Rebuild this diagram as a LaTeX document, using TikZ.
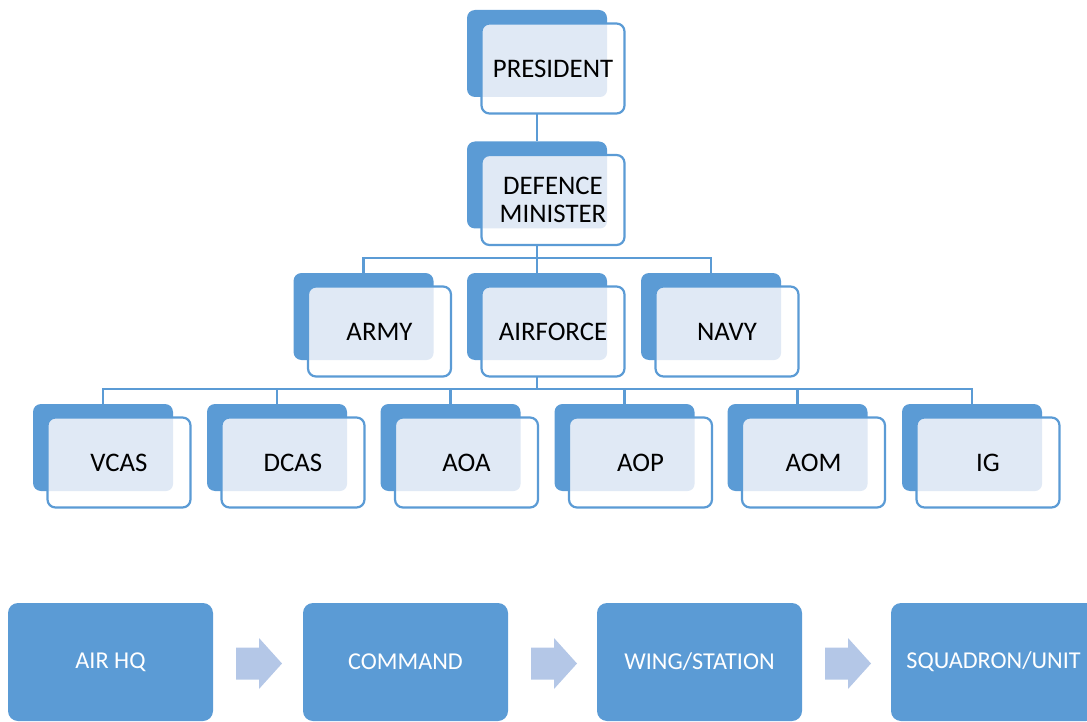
\documentclass[tikz,border=0pt]{standalone}
\usepackage{fontspec}
\setmainfont{Carlito}
\definecolor{ob}{RGB}{91,155,213}
\definecolor{ovl}{RGB}{224,233,245}
\definecolor{arw}{RGB}{180,199,231}
\tikzset{
  backbox/.style={fill=ob, rounded corners=8pt, minimum width=140pt, minimum height=87pt, inner sep=0pt, outer sep=0pt},
  frontbox/.style={draw=ob, line width=2.2pt, fill=white, rounded corners=8pt, minimum width=143pt, minimum height=90pt,
    inner sep=0pt, outer sep=0pt, align=center, font=\fontsize{26.8}{28.5}\selectfont, text=black,
    path picture={\fill[ovl, rounded corners=7pt] ([shift={(-10pt,10pt)}]path picture bounding box.north west) rectangle (#1.south east);}},
  conn/.style={draw=ob, line width=2.2pt},
  stage/.style={fill=ob, rounded corners=10pt, minimum width=205pt, minimum height=118pt, inner sep=0pt, outer sep=0pt,
    text=white, font=\fontsize{24.2}{28}\selectfont},
  flow/.style={fill=arw},
  fshift/.style={shift={(16pt,-15pt)}}
}
\newcommand\frontof[2]{\node[frontbox=#1-b] (#1) at ([fshift]#1-b.center) {#2};}
\begin{document}
\begin{tikzpicture}[x=1pt,y=-1pt]
\useasboundingbox (0,0) rectangle (1087,722);
% back boxes
\node[backbox] (pres-b) at (537,53.5) {};
\node[backbox] (dm-b) at (537,185) {};
\node[backbox] (army-b) at (363.5,316.5) {};
\node[backbox] (af-b) at (537,316.5) {};
\node[backbox] (navy-b) at (711,316.5) {};
\node[backbox] (vcas-b) at (103,447.5) {};
\node[backbox] (dcas-b) at (277,447.5) {};
\node[backbox] (aoa-b) at (450.5,447.5) {};
\node[backbox] (aop-b) at (624.5,447.5) {};
\node[backbox] (aom-b) at (797.5,447.5) {};
\node[backbox] (ig-b) at (972,447.5) {};
% connectors
\coordinate (j1) at (537,258);
\coordinate (j2) at (537,389);
\draw[conn] (pres-b.south) -- (dm-b.north);
\draw[conn] (dm-b.south) -- (j1);
\draw[conn] (army-b.north) |- (j1) -| (navy-b.north);
\draw[conn] (j1) -- (af-b.north);
\draw[conn] (af-b.south) -- (j2);
\draw[conn] (vcas-b.north) |- (j2) -| (ig-b.north);
\draw[conn] (dcas-b.north) -- (dcas-b.north |- j2);
\draw[conn] (aoa-b.north) -- (aoa-b.north |- j2);
\draw[conn] (aop-b.north) -- (aop-b.north |- j2);
\draw[conn] (aom-b.north) -- (aom-b.north |- j2);
% front boxes
\frontof{pres}{PRESIDENT}
\frontof{dm}{DEFENCE\\MINISTER}
\frontof{army}{ARMY}
\frontof{af}{AIRFORCE}
\frontof{navy}{NAVY}
\frontof{vcas}{VCAS}
\frontof{dcas}{DCAS}
\frontof{aoa}{AOA}
\frontof{aop}{AOP}
\frontof{aom}{AOM}
\frontof{ig}{IG}
% bottom flow
\node[stage] (hq) at (110.5,662) {AIR HQ};
\node[stage] (cmd) at (405.5,662) {COMMAND};
\node[stage] (wing) at (699.5,662) {WING/STATION};
\node[stage] (sqn) at (993.5,662) {SQUADRON/UNIT};
\foreach \a in {hq,cmd,wing}{
  \fill[flow] ([xshift=23pt,yshift=-1.5pt]\a.east) ++(0,16) -- ++(23,0) -- ++(0,9.5) -- ++(23,-25.5)
    -- ++(-23,-25.5) -- ++(0,9.5) -- ++(-23,0) -- cycle;
}
\end{tikzpicture}
\end{document}
